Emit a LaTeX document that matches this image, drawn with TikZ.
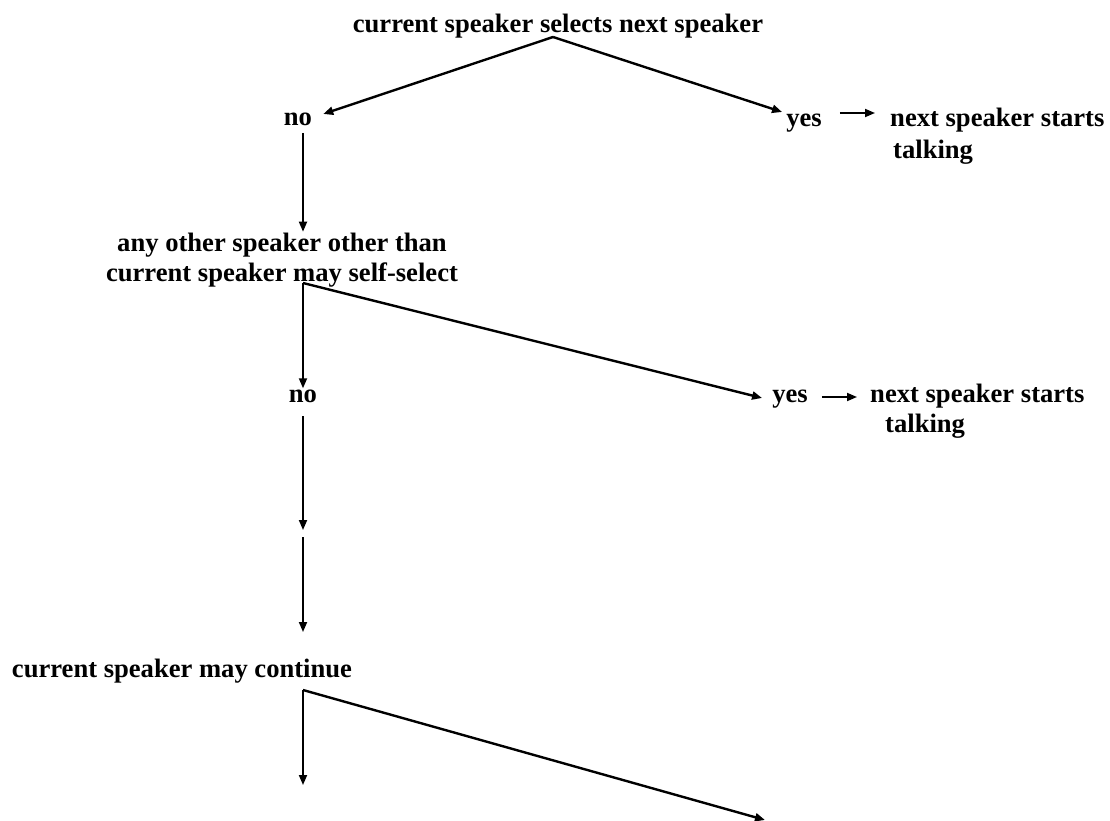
\documentclass[tikz,border=0pt]{standalone}
\usepackage{fontspec}
\setmainfont{Liberation Serif}
\usetikzlibrary{arrows.meta}
\begin{document}
\begin{tikzpicture}[x=1pt,y=-1pt,
  txt/.style={font=\fontsize{26.6}{30}\selectfont\bfseries, inner sep=1pt},
  lbl/.style={txt, align=center},
  lblB/.style={txt, anchor=base},
  lblL/.style={txt, anchor=base west},
  arr/.style={-{Triangle[length=10pt,width=8pt]}, line width=1.8pt},
  darr/.style={-{Triangle[length=10pt,width=8pt]}, line width=2.4pt}]
\useasboundingbox (0,0) rectangle (1110,821);
% nodes
\node[lblB] (t) at (558,33) {current speaker selects next speaker};
\node[lblB] (no1) at (298,126) {no};
\node[lblB] (yes1) at (804,127) {yes};
\node[lblL] (nst1) at (889,127) {next speaker starts};
\node[lblL] (talk1) at (892,159) {talking};
\node[lbl] (sel) at (282,260) {any other speaker other than\\current speaker may self-select};
\node[lblB] (no2) at (303,402) {no};
\node[lblB] (yes2) at (790,402) {yes};
\node[lblL] (nst2) at (869,402) {next speaker starts};
\node[lblL] (talk2) at (884,432) {talking};
\node[lblB] (cont) at (182,677) {current speaker may continue};
% junction points
\coordinate (a1) at (553,37);
\coordinate (v1s) at (303,133);
\coordinate (a2) at (303,283);
\coordinate (v2s) at (303,416);
\coordinate (m1) at (303,530);
\coordinate (m2) at (303,537);
\coordinate (m3) at (303,632);
\coordinate (a3) at (303,690);
\coordinate (e1) at (303,785);
\coordinate (e2) at (765,820);
% connectors
\draw[darr] (a1) -- ([xshift=10pt]no1.east |- 0,114);
\draw[darr] (a1) -- ([xshift=-3pt]yes1.west |- 0,112);
\draw[arr] ([xshift=17pt]yes1.east |- 0,113) -- ([xshift=-14pt]nst1.west |- 0,113);
\draw[arr] (v1s) -- (sel.north -| v1s);
\draw[arr] (a2) -- (no2.north -| a2);
\draw[darr] (a2) -- ([xshift=-9pt]yes2.west |- 0,398);
\draw[arr] ([xshift=13pt]yes2.east |- 0,397) -- ([xshift=-12pt]nst2.west |- 0,397);
\draw[arr] (v2s) -- (m1);
\draw[arr] (m2) -- (m3);
\draw[arr] (a3) -- (e1);
\draw[darr] (a3) -- (e2);
\end{tikzpicture}
\end{document}
